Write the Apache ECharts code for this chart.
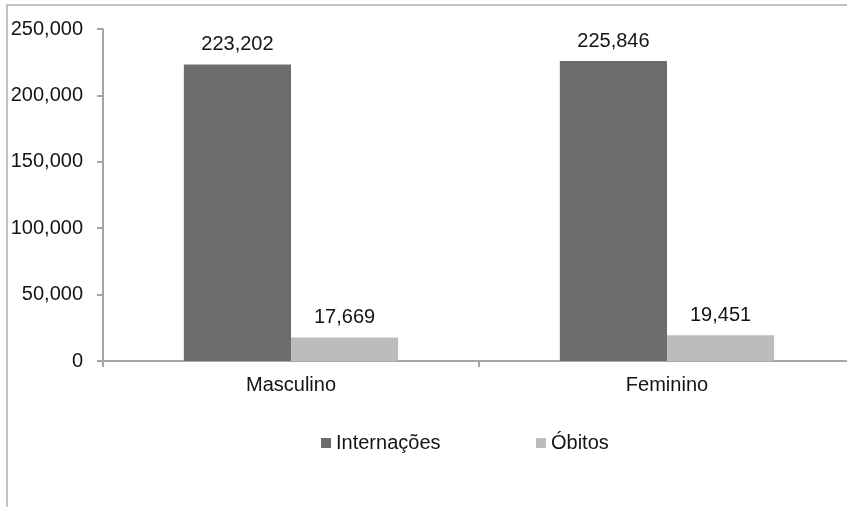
<!DOCTYPE html>
<html>
<head>
<meta charset="utf-8">
<script src="https://cdn.jsdelivr.net/npm/echarts@6/dist/echarts.min.js"></script>
<style>
  html, body { margin: 0; padding: 0; background: #fff; overflow: hidden; }
  #chart { width: 860px; height: 507px; }
</style>
</head>
<body>
<div id="chart"></div>
<script>
// Hospital admissions and deaths by sex
const categories = ['Masculino', 'Feminino'];
const internacoes = [223202, 225846];
const obitos = [17669, 19451];
const yTicks = [0, 50000, 100000, 150000, 200000, 250000];

const fmt = v => v.toLocaleString('en-US');
const FONT = 'Liberation Sans, Arial, sans-serif';
const TEXT = '#141414';

const chart = echarts.init(document.getElementById('chart'), null, { renderer: 'canvas' });

chart.setOption({
  backgroundColor: '#ffffff',
  animation: false,
  textStyle: { fontFamily: FONT },
  graphic: [{
    type: 'rect',
    shape: { x: 7, y: 5, width: 900, height: 600 },
    style: { fill: 'none', stroke: '#c4c4c4', lineWidth: 2 },
    silent: true
  }],
  legend: [{
    data: ['Internações'],
    left: 316, top: 428,
    icon: 'rect', itemWidth: 10, itemHeight: 10, itemGap: 5,
    textStyle: { fontSize: 20, color: TEXT, fontFamily: FONT }
  }, {
    data: ['Óbitos'],
    left: 531, top: 428,
    icon: 'rect', itemWidth: 10, itemHeight: 10, itemGap: 5,
    textStyle: { fontSize: 20, color: TEXT, fontFamily: FONT }
  }],
  grid: { left: 103, right: 5, top: 29, bottom: 146, containLabel: false },
  xAxis: {
    type: 'category',
    data: categories,
    axisLine: { lineStyle: { color: '#a6a6a6', width: 2 } },
    axisTick: { show: true, length: 6, lineStyle: { color: '#a6a6a6', width: 2 } },
    axisLabel: { fontSize: 20, color: TEXT, margin: 14, fontFamily: FONT }
  },
  yAxis: {
    type: 'value',
    min: yTicks[0],
    max: yTicks[yTicks.length - 1],
    interval: yTicks[1] - yTicks[0],
    axisLine: { show: true, lineStyle: { color: '#a6a6a6', width: 2 } },
    axisTick: { show: true, length: 6, lineStyle: { color: '#a6a6a6', width: 2 } },
    splitLine: { show: false },
    axisLabel: { fontSize: 20, color: TEXT, margin: 20, formatter: fmt, fontFamily: FONT }
  },
  series: [{
    name: 'Internações',
    type: 'bar',
    data: internacoes,
    barGap: '0%',
    barCategoryGap: '43%',
    itemStyle: { color: '#6d6d6d' },
    label: { show: true, position: 'top', distance: 10, fontSize: 20, color: TEXT, formatter: p => fmt(p.value), fontFamily: FONT }
  }, {
    name: 'Óbitos',
    type: 'bar',
    data: obitos,
    itemStyle: { color: '#bcbcbc' },
    label: { show: true, position: 'top', distance: 10, fontSize: 20, color: TEXT, formatter: p => fmt(p.value), fontFamily: FONT }
  }]
});
</script>
</body>
</html>
